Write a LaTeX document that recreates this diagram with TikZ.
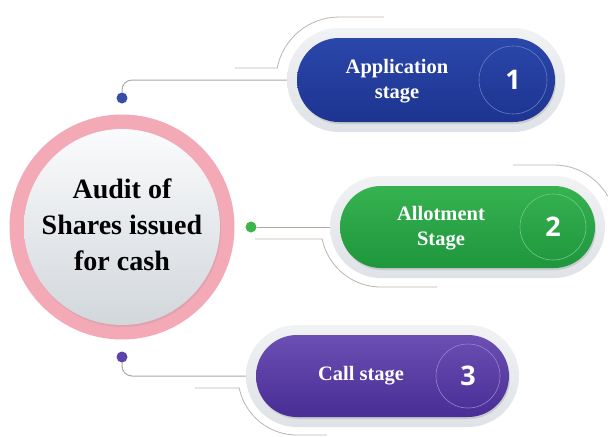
\documentclass[tikz,border=0pt]{standalone}
\usepackage{fontspec}
\setmainfont{Liberation Serif}
\newfontfamily\numfont{Open Sans}
\usetikzlibrary{shapes.misc,shadows}
\definecolor{pinkring}{HTML}{F3A9B6}
\definecolor{blueT}{HTML}{2A47AA}
\definecolor{blueB}{HTML}{1D3490}
\definecolor{greenT}{HTML}{36B250}
\definecolor{greenB}{HTML}{1F963D}
\definecolor{purpT}{HTML}{6C4FB2}
\definecolor{purpB}{HTML}{482D96}
\definecolor{haloT}{HTML}{F0F2F4}
\definecolor{haloB}{HTML}{DFE2E6}
\definecolor{decoline}{HTML}{BDB5AE}
\definecolor{connline}{HTML}{AFA9A3}
\definecolor{dotblue}{HTML}{3A4DA6}
\definecolor{dotgreen}{HTML}{3DB54B}
\definecolor{dotpurple}{HTML}{5E43A8}
\definecolor{circT}{HTML}{FAFBFC}
\definecolor{circB}{HTML}{D2D7DC}
\begin{document}
\begin{tikzpicture}[x=1pt,y=-1pt,
  halo/.style={rounded rectangle, inner sep=0pt, top color=haloT, bottom color=haloB, draw=none},
  pill/.style={rounded rectangle, inner sep=0pt, draw=none,
     drop shadow={opacity=0.25, shadow xshift=1pt, shadow yshift=-2pt}},
  pilltext/.style={align=center, text=white, font=\fontsize{20.5}{25}\selectfont\bfseries},
  numcirc/.style={circle, inner sep=0pt, minimum size=#1, line width=0.6pt, text=white,
     font=\numfont\fontsize{27}{30}\selectfont\bfseries},
  dotnode/.style={circle, inner sep=0pt, minimum size=11pt, draw=none},
  conn/.style={draw=connline, line width=1pt},
  deco/.style={draw=decoline, line width=0.8pt}]
\useasboundingbox (0,0) rectangle (614,437);
\fill[white] (0,0) rectangle (614,437);

% decorative thin arcs
\draw[deco] (235,68) -- (277.2,68) arc[start angle=191, end angle=270, radius=63] -- ++(45,0);
\draw[deco] (255,239) -- (322.2,239) arc[start angle=168.5, end angle=90, radius=60] -- (437,287);
\draw[deco] (513,165) -- (554,165) arc[start angle=270, end angle=330, radius=62];
\draw[deco] (195,388) -- (239.2,388) arc[start angle=168.3, end angle=90, radius=59] -- ++(30,0);

% halos
\node[halo, minimum width=278pt, minimum height=104pt] (h1) at (426,80) {};
\node[halo, minimum width=275pt, minimum height=102pt] (h2) at (467.5,227) {};
\node[halo, minimum width=273pt, minimum height=102pt] (h3) at (382.5,376) {};

% pills
\node[pill, top color=blueT, bottom color=blueB, minimum width=258pt, minimum height=84pt] (p1) at (426,80) {};
\node[pill, top color=greenT, bottom color=greenB, minimum width=255pt, minimum height=82pt] (p2) at (467.5,227) {};
\node[pill, top color=purpT, bottom color=purpB, minimum width=253pt, minimum height=82pt] (p3) at (382.5,376) {};

% number circles
\node[numcirc=68pt, draw=blueT!70!white] (n1) at (513,80) {1};
\node[numcirc=66pt, draw=greenT!70!white] (n2) at (553,227) {2};
\node[numcirc=64pt, draw=purpT!70!white] (n3) at (468,376) {3};

% pill texts
\node[pilltext] (t1) at (397,81) {Application\\stage};
\node[pilltext] (t2) at (441,228) {Allotment\\Stage};
\node[pilltext] (t3) at (361,376) {Call stage};

% central circle
\node[circle, fill=pinkring, minimum size=225pt, inner sep=0pt] (ring) at (122,227) {};
\node[circle, top color=circT, bottom color=circB, minimum size=196pt, inner sep=0pt,
  drop shadow={opacity=0.15, shadow xshift=1pt, shadow yshift=-2pt}] (main) at (122,227) {};
\node[align=center, font=\fontsize{28}{36}\selectfont\bfseries] (maintext) at (122,225) {Audit of\\Shares issued\\for cash};

% dots and connectors
\node[dotnode, fill=dotblue] (d1) at (122,98) {};
\node[dotnode, fill=dotgreen] (d2) at (251,227) {};
\node[dotnode, fill=dotpurple] (d3) at (122,357) {};
\draw[conn, rounded corners=10pt] (d1) |- (h1.west);
\draw[conn] (d2) -- (h2.west);
\draw[conn, rounded corners=10pt] (d3) |- (h3.west);
\end{tikzpicture}
\end{document}
